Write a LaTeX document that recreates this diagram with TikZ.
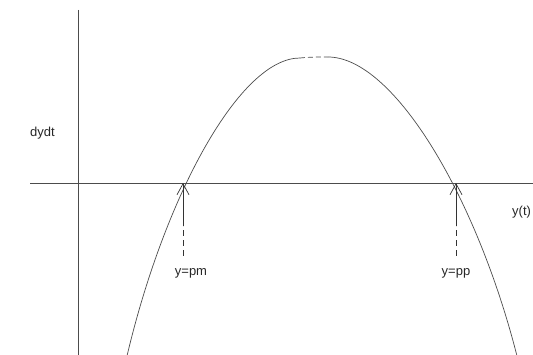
\documentclass[tikz,border=0pt]{standalone}
\usepackage{fontspec}
\setmainfont{Liberation Sans}
\usetikzlibrary{arrows.meta}
\begin{document}
\begin{tikzpicture}[x=1pt,y=-1pt,
  axisline/.style={draw=black!70,line width=0.8pt},
  curveline/.style={draw=black!70,line width=0.7pt},
  arrowline/.style={draw=black!80,line width=0.7pt,-{Straight Barb[length=11pt,width=12pt,line width=0.7pt]}},
  dashline/.style={draw=black!80,line width=0.7pt,dash pattern=on 6pt off 4pt},
  lbl/.style={font=\fontsize{13}{15}\selectfont,text=black!85,inner sep=0pt}]
\useasboundingbox (0,0) rectangle (533,355);
% axes
\coordinate (vtop) at (78,10);
\coordinate (vbot) at (78,355);
\coordinate (hl) at (30,183);
\coordinate (hr) at (533,183);
\draw[axisline] (vtop) -- (vbot);
\draw[axisline] (hl) -- (hr);
% curve
\coordinate (lbot) at (127,356);
\coordinate (ltop) at (300,58);
\coordinate (rtop) at (328,57);
\coordinate (rbot) at (517,356);
\draw[curveline] (lbot) .. controls (165,195) and (240,58) .. (ltop);
\draw[curveline,dash pattern=on 5pt off 3pt] (ltop) .. controls (310,57) and (318,57) .. (rtop);
\draw[curveline] (rtop) .. controls (393,57) and (476,195) .. (rbot);
% arrows
\coordinate (pm) at (183,183);
\coordinate (pmmid) at (183,226);
\coordinate (pmlow) at (183,256);
\coordinate (pp) at (456,183);
\coordinate (ppmid) at (456,226);
\coordinate (pplow) at (456,256);
\draw[dashline] (pmlow) -- (pmmid);
\draw[arrowline] (pmmid) -- (pm);
\draw[dashline] (pplow) -- (ppmid);
\draw[arrowline] (ppmid) -- (pp);
% labels
\node[lbl,anchor=west] (dydt) at (30,133) {dydt};
\node[lbl] (ylab) at (191,273) {y=pm};
\node[lbl] (pplab) at (456,273) {y=pp};
\node[lbl,anchor=west] (yt) at (512,212) {y(t)};
\end{tikzpicture}
\end{document}
